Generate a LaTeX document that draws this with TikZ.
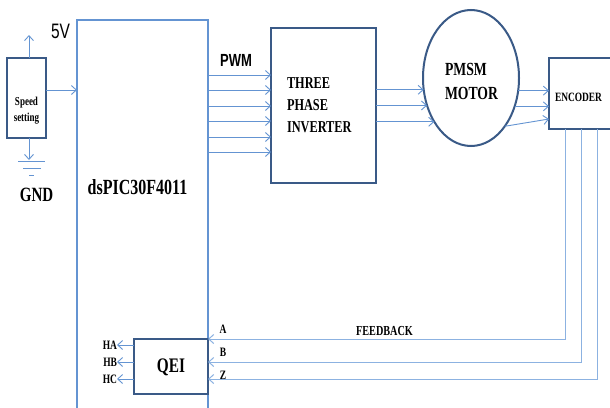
\documentclass[tikz,border=0pt]{standalone}
\usepackage{fontspec}
\setmainfont{Liberation Serif}
\newfontfamily\arialf{Liberation Sans}
\usetikzlibrary{arrows.meta,shapes.geometric}
\definecolor{lightb}{RGB}{100,148,210}
\definecolor{darkb}{RGB}{58,90,135}
\definecolor{fbb}{RGB}{140,178,225}
\newcommand{\vst}[1]{\scalebox{1}[1.35]{#1}}
\begin{document}
\begin{tikzpicture}[x=1pt,y=-1pt,
  arr/.style={draw=lightb, line width=0.9pt, -{Straight Barb[length=5pt,width=9pt]}},
  fbarr/.style={draw=fbb, line width=1pt, -{Straight Barb[length=5pt,width=9pt]}},
  gline/.style={draw=lightb, line width=0.9pt},
  dbox/.style={draw=darkb, line width=2pt, inner sep=0pt, outer sep=0pt},
  lbl/.style={inner sep=0pt, outer sep=0pt, text=black}
]
\useasboundingbox (0,0) rectangle (610,407);
\clip (0,0) rectangle (610,407);
\fill[white] (0,0) rectangle (610,407);

% boxes
\node[draw=lightb, line width=1.8pt, minimum width=131pt, minimum height=400pt, inner sep=0pt, outer sep=0pt] (dsp) at (142.5,220) {};
\node[dbox, minimum width=39pt, minimum height=80pt] (spd) at (26.5,98) {};
\node[dbox, line width=2.5pt, minimum width=105pt, minimum height=155pt] (inv) at (323.5,105.5) {};
\node[dbox, ellipse, minimum width=96pt, minimum height=136pt] (mot) at (471,78) {};
\node[dbox, minimum width=70pt, minimum height=71pt] (enc) at (584,93.5) {};
\node[dbox, minimum width=74pt, minimum height=55pt] (qei) at (171,366.5) {};

% texts
\node[lbl, font=\fontsize{9}{16}\selectfont\bfseries, align=center] (spdt) at (26.5,111) {\vst{Speed}\\\vst{setting}};
\node[lbl, font=\fontsize{15}{18}\selectfont\bfseries] (gndt) at (36.5,195) {\vst{GND}};
\node[lbl, font=\arialf\fontsize{15.5}{18}\selectfont] (vcct) at (60.5,31) {\vst{5V}};
\node[lbl, font=\arialf\fontsize{13}{16}\selectfont\bfseries] (pwmt) at (236,60) {\vst{PWM}};
\node[lbl, font=\fontsize{16}{18}\selectfont\bfseries] (dspt) at (137.5,187) {\vst{dsPIC30F4011}};
\node[lbl, font=\fontsize{12.3}{22}\selectfont\bfseries, align=left, anchor=west] (invt) at (287,105) {\vst{THREE}\\\vst{PHASE}\\\vst{INVERTER}};
\node[lbl, font=\fontsize{13.7}{24}\selectfont\bfseries, align=left, anchor=west] (mott) at (445,81) {\vst{PMSM}\\\vst{MOTOR}};
\node[lbl, font=\fontsize{9.4}{12}\selectfont\bfseries] (enct) at (578.5,97) {\vst{ENCODER}};
\node[lbl, font=\fontsize{15.3}{18}\selectfont\bfseries] (qeit) at (171,367) {\vst{QEI}};
\node[lbl, font=\fontsize{10.2}{12}\selectfont\bfseries] (fbt) at (384.5,331) {\vst{FEEDBACK}};
\node[lbl, font=\fontsize{9.5}{12}\selectfont\bfseries] (at) at (223,329) {\vst{A}};
\node[lbl, font=\fontsize{9.5}{12}\selectfont\bfseries] (bt) at (223,352) {\vst{B}};
\node[lbl, font=\fontsize{9.5}{12}\selectfont\bfseries] (zt) at (223,375) {\vst{Z}};

% speed setting connections
\coordinate (vcc) at (29,35);
\coordinate (gnd) at (29,160);
\draw[arr] (spd.north -| vcc) -- (vcc);
\draw[arr] (spd.south -| gnd) -- (gnd);
\draw[gline] ([xshift=-11pt,yshift=-1pt]gnd) -- ([xshift=16pt,yshift=-1pt]gnd);
\draw[gline] ([xshift=-6pt,yshift=-8pt]gnd) -- ([xshift=12pt,yshift=-8pt]gnd);
\draw[gline] ([xshift=0pt,yshift=-15pt]gnd) -- ([xshift=5pt,yshift=-15pt]gnd);
\coordinate (sin) at (0,90);
\draw[arr] (spd.east |- sin) -- (dsp.west |- sin);

% PWM lines
\foreach \y [count=\i] in {75,90,106,121,137,152} {
  \coordinate (p\i) at (0,\y);
  \draw[arr] (dsp.east |- p\i) -- (inv.west |- p\i);
}

% inverter -> motor
\foreach \a in {194.3,212.6,230.2} {
  \draw[arr] (inv.east |- mot.\a) -- (mot.\a);
}
% motor -> encoder
\draw[arr] (mot.345.7) -- (enc.west |- mot.345.7);
\draw[arr] (mot.327.4) -- (enc.west |- mot.327.4);
\coordinate (e3) at (0,119);
\draw[arr] (mot.305.3) -- (enc.west |- e3);

% feedback
\coordinate (fa) at (565,339);
\coordinate (fb) at (581,362);
\coordinate (fz) at (597,379);
\draw[fbarr] (enc.south -| fa) -- (fa) -- (qei.north east);
\draw[fbarr] (enc.south -| fb) -- (fb) -- (qei.east |- fb);
\draw[fbarr] (enc.south -| fz) -- (fz) -- (qei.east |- fz);

% QEI outputs
\foreach \n/\y in {HA/345,HB/362,HC/379} {
  \coordinate (h\n) at (117,\y);
  \draw[arr] (qei.west |- h\n) -- (h\n);
  \node[lbl, anchor=east, font=\fontsize{9.5}{12}\selectfont\bfseries] (t\n) at (h\n) {\vst{\n}};
}
\end{tikzpicture}
\end{document}
